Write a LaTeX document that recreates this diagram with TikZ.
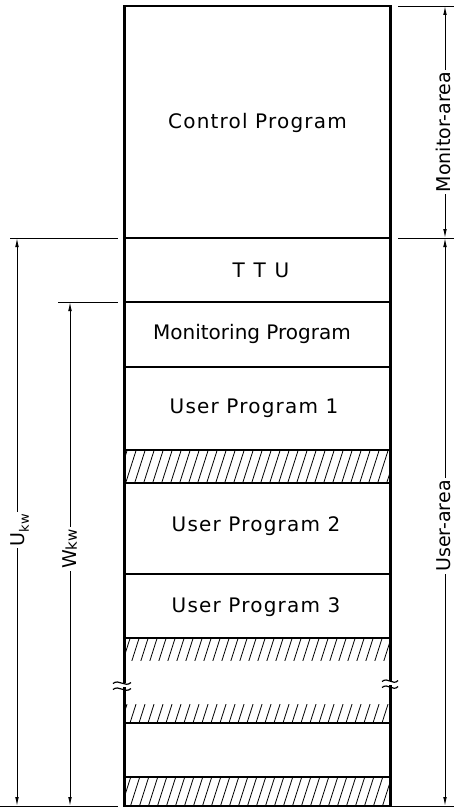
\documentclass[tikz,border=0pt]{standalone}
\usepackage{fontspec}
\setmainfont{DejaVu Sans}
\usetikzlibrary{arrows.meta}
\newcommand{\hatchband}[2]{%
  \begin{scope}
    \clip (124.5,#1) rectangle (390.5,#2);
    \foreach \i in {0,...,46} \draw[hat] ({\i*9},820) -- ({\i*9+262},0);
  \end{scope}}
\begin{document}
\begin{tikzpicture}[x=1pt,y=-1pt,
  col/.style={line width=2.6pt},
  sep/.style={line width=1.4pt},
  dim/.style={line width=0.9pt},
  ext/.style={line width=0.8pt},
  hat/.style={line width=0.8pt},
  brk/.style={line width=1.2pt},
  arr/.style={dim,{Latex[length=9pt,width=3.6pt]}-{Latex[length=9pt,width=3.6pt]}},
  lbl/.style={font=\fontsize{20}{24}\selectfont},
  wide/.style={font=\fontsize{20}{24}\selectfont\addfontfeature{LetterSpace=6}},
  vlbl/.style={font=\fontsize{19}{23}\selectfont,rotate=90,fill=white,inner xsep=2pt,inner ysep=0.5pt},
]
\useasboundingbox (0,0) rectangle (454,810);

% hatched bands
\hatchband{450}{483}
\hatchband{638}{660}
\hatchband{704}{723}
\hatchband{777}{806}

% separators
\foreach \y in {238,302,367,450,483,574,638,723,777}
  \draw[sep] (124.5,\y) -- (390.5,\y);

% column outline with break
\draw[col] (123.2,6) -- (391.8,6);
\draw[col] (123.2,806) -- (391.8,806);
\draw[col] (124.5,6) -- (124.5,683);
\draw[col] (124.5,687) -- (124.5,806);
\draw[col] (390.5,6) -- (390.5,681);
\draw[col] (390.5,685) -- (390.5,806);
\draw[brk] (113,683.5) .. controls (119,678.5) and (125,688) .. (131,682.5);
\draw[brk] (113,689.5) .. controls (119,684.5) and (125,694) .. (131,688.5);
\draw[brk] (382,681.5) .. controls (388,676.5) and (393,686) .. (398,680.5);
\draw[brk] (382,687.5) .. controls (388,682.5) and (393,692) .. (398,686.5);

% texts
\node[wide] (cp) at (257.5,123) {Control Program};
\node[lbl] (ttu) at (261,270) {\addfontfeature{LetterSpace=45}TTU};
\node[lbl] (mp) at (252,334) {Monitoring Program};
\node[wide] (up1) at (254,408) {User Program 1};
\node[wide] (up2) at (256,526) {User Program 2};
\node[wide] (up3) at (256,607) {User Program 3};

% extension lines
\draw[ext] (398,6) -- (454,6);
\draw[ext] (398,238) -- (454,238);
\draw[ext] (10,238) -- (118,238);
\draw[ext] (58,302) -- (118,302);
\draw[ext] (0,806) -- (118,806);
\draw[ext] (392,806) -- (454,806);

% dimension coordinates
\coordinate (mtop) at (445,6);
\coordinate (mbot) at (445,238);
\coordinate (ubot) at (445,806);
\coordinate (ktop) at (17,238);
\coordinate (kbot) at (17,806);
\coordinate (wtop) at (70,302);
\coordinate (wbot) at (70,806);

\draw[arr] (mtop) -- (mbot);
\draw[arr] (mbot) -- (ubot);
\draw[arr] (ktop) -- (kbot);
\draw[arr] (wtop) -- (wbot);

\node[vlbl] (mlab) at (443.5,132) {Monitor-area};
\node[vlbl] (ulab) at (443.5,526) {User-area};
\node[vlbl] (klab) at (20,530) {U\raisebox{-4pt}{\fontsize{13}{15}\selectfont kw}};
\node[vlbl] (wlab) at (70,549) {W{\fontsize{15}{17}\selectfont kw}};
\end{tikzpicture}
\end{document}
